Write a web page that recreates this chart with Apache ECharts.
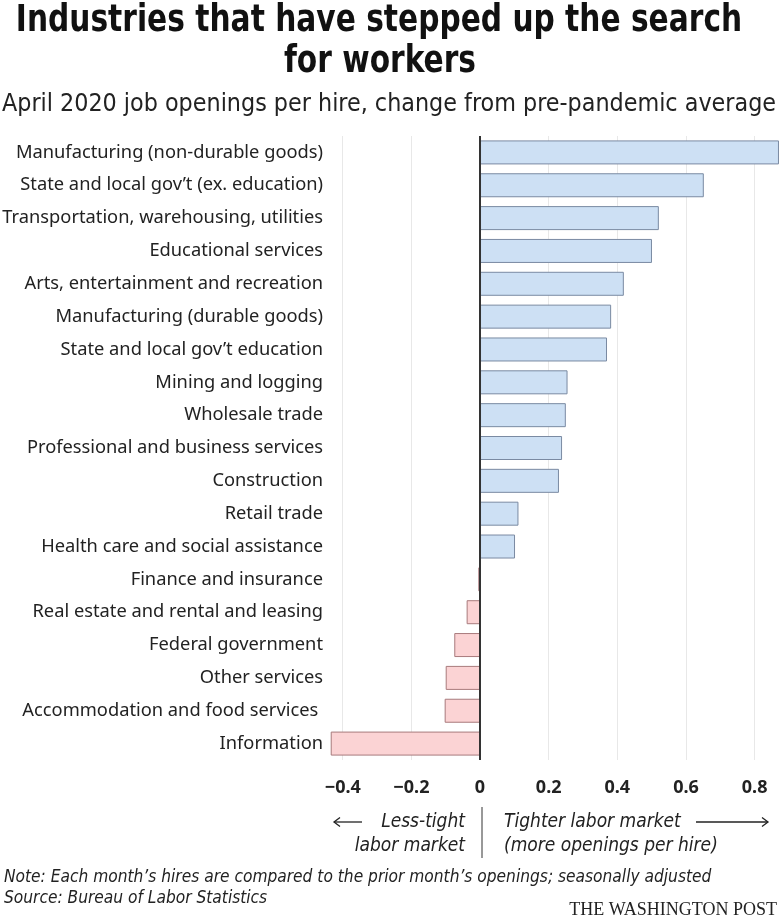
<!DOCTYPE html>
<html>
<head>
<meta charset="utf-8">
<script src="https://cdn.jsdelivr.net/npm/echarts@6/dist/echarts.min.js"></script>
<style>
html,body{margin:0;padding:0;background:#fff;}
#chart{width:780px;height:919px;}
</style>
</head>
<body>
<div id="chart"></div>
<script>
const categories = [
  "Manufacturing (non-durable goods)",
  "State and local gov\u2019t (ex. education)",
  "Transportation, warehousing, utilities",
  "Educational services",
  "Arts, entertainment and recreation",
  "Manufacturing (durable goods)",
  "State and local gov\u2019t education",
  "Mining and logging",
  "Wholesale trade",
  "Professional and business services",
  "Construction",
  "Retail trade",
  "Health care and social assistance",
  "Finance and insurance",
  "Real estate and rental and leasing",
  "Federal government",
  "Other services",
  "Accommodation and food services ",
  "Information"
];
const values = [0.871, 0.652, 0.521, 0.501, 0.419, 0.382, 0.370, 0.255, 0.250, 0.239, 0.230, 0.112, 0.102, -0.005, -0.039, -0.075, -0.100, -0.103, -0.435];
const tickValues = [-0.4, -0.2, 0, 0.2, 0.4, 0.6, 0.8];

const sansUI = "'Noto Sans', 'Open Sans', sans-serif";
const narrow = "'DejaVu Sans Condensed', 'Liberation Sans Narrow', sans-serif";

const barData = values.map(v => ({
  value: v,
  itemStyle: v >= 0
    ? {color: '#cde0f4', borderColor: '#7a8aa2', borderWidth: 1}
    : {color: '#fbd3d4', borderColor: '#a87a7c', borderWidth: 1}
}));

const chart = echarts.init(document.getElementById('chart'));
const option = {
  animation: false,
  backgroundColor: '#fff',
  grid: {left: 329, width: 451, top: 136, height: 624, containLabel: false, outerBoundsMode: 'none'},
  xAxis: {
    type: 'value', min: -0.44, max: 0.874,
    axisLine: {show: false},
    axisTick: {show: false, customValues: tickValues},
    axisLabel: {
      customValues: tickValues,
      fontFamily: sansUI, fontWeight: 'bold', fontSize: 18, color: '#222', margin: 19,
      formatter: v => v === 0 ? '0' : (v < 0 ? '\u2212' + Math.abs(v).toFixed(1) : v.toFixed(1))
    },
    splitLine: {show: true, lineStyle: {color: '#e8e8e8', width: 1}}
  },
  yAxis: {
    type: 'category', data: categories, inverse: true,
    axisLine: {show: false}, axisTick: {show: false},
    axisLabel: {fontFamily: sansUI, fontSize: 18.3, color: '#222', margin: 6}
  },
  series: [{
    type: 'bar',
    data: barData,
    barWidth: 24,
    markLine: {
      silent: true, symbol: 'none', label: {show: false},
      lineStyle: {color: '#333', width: 2, type: 'solid'},
      data: [{xAxis: 0}]
    }
  }],
  graphic: [
    {type: 'text', x: 379, y: 21, scaleY: 1.15, originX: 0, originY: 0,
      style: {text: 'Industries that have stepped up the search', font: 'bold 33px ' + narrow, fill: '#111', textAlign: 'center', textVerticalAlign: 'middle'}},
    {type: 'text', x: 380, y: 62, scaleY: 1.15, originX: 0, originY: 0,
      style: {text: 'for workers', font: 'bold 33px ' + narrow, fill: '#111', textAlign: 'center', textVerticalAlign: 'middle'}},
    {type: 'text', x: 389, y: 105,
      style: {text: 'April 2020 job openings per hire, change from pre-pandemic average', font: '24.8px ' + narrow, fill: '#222', textAlign: 'center', textVerticalAlign: 'middle'}},

    {type: 'line', shape: {x1: 334, y1: 822, x2: 362, y2: 822}, style: {stroke: '#222', lineWidth: 1.3}},
    {type: 'polyline', shape: {points: [[340, 817.5], [334, 822], [340, 826.5]]}, style: {stroke: '#222', lineWidth: 1.3, fill: null}},
    {type: 'text', x: 465, y: 822, style: {text: 'Less-tight', font: 'italic 19px ' + narrow, fill: '#222', textAlign: 'right', textVerticalAlign: 'middle'}},
    {type: 'text', x: 465, y: 846, style: {text: 'labor market', font: 'italic 19px ' + narrow, fill: '#222', textAlign: 'right', textVerticalAlign: 'middle'}},
    {type: 'line', shape: {x1: 482, y1: 807, x2: 482, y2: 858}, style: {stroke: '#333', lineWidth: 1}},
    {type: 'text', x: 504, y: 822, style: {text: 'Tighter labor market', font: 'italic 19px ' + narrow, fill: '#222', textAlign: 'left', textVerticalAlign: 'middle'}},
    {type: 'text', x: 504, y: 846, style: {text: '(more openings per hire)', font: 'italic 19px ' + narrow, fill: '#222', textAlign: 'left', textVerticalAlign: 'middle'}},
    {type: 'line', shape: {x1: 696, y1: 822, x2: 768, y2: 822}, style: {stroke: '#222', lineWidth: 1.3}},
    {type: 'polyline', shape: {points: [[762, 817.5], [768, 822], [762, 826.5]]}, style: {stroke: '#222', lineWidth: 1.3, fill: null}},

    {type: 'text', x: 4, y: 878, style: {text: 'Note: Each month\u2019s hires are compared to the prior month\u2019s openings; seasonally adjusted', font: 'italic 17.2px ' + narrow, fill: '#222', textVerticalAlign: 'middle'}},
    {type: 'text', x: 4, y: 899, style: {text: 'Source: Bureau of Labor Statistics', font: 'italic 17.2px ' + narrow, fill: '#222', textVerticalAlign: 'middle'}},
    {type: 'text', x: 777, y: 910, style: {text: 'THE WASHINGTON POST', font: '18px "Liberation Serif", "DejaVu Serif", serif', fill: '#222', textAlign: 'right', textVerticalAlign: 'middle'}}
  ]
};
chart.setOption(option);
</script>
</body>
</html>
